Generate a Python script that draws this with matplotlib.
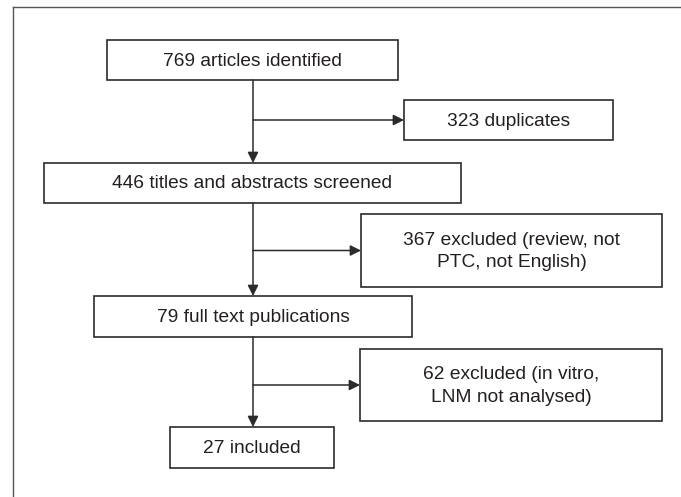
import matplotlib
matplotlib.use("Agg")
from matplotlib import pyplot as pl
from matplotlib.patches import Rectangle

# flow boxes: left, top, right, bottom (pixel layout of the figure)
labels = [
    "769 articles identified",
    "323 duplicates",
    "446 titles and abstracts screened",
    "367 excluded (review, not\nPTC, not English)",
    "79 full text publications",
    "62 excluded (in vitro,\nLNM not analysed)",
    "27 included",
]
box_x0 = [107, 404, 44, 361, 94, 360, 170]
box_x1 = [398, 613, 461, 662, 412, 662, 334]
box_y0 = [40, 100, 163, 214, 296, 349, 427]
box_y1 = [80, 140, 203, 287, 337, 421, 468]

spine_x = 253
main_steps = [(0, 2), (2, 4), (4, 6)]   # main flow, box -> box
side_steps = [(0, 1), (2, 3), (4, 5)]   # exclusions branching right

line_col = "#2b2b2b"
text_col = "#231f20"
font = ["Liberation Sans", "DejaVu Sans"]

fig = pl.figure(figsize=(6.81, 4.97), dpi=100)
ax = fig.add_axes([0, 0, 1, 1])
ax.set_xlim(0, 681)
ax.set_ylim(497, 0)
ax.axis("off")

# outer frame (top and left only visible)
ax.plot([13, 681], [7, 7], color="#555555", lw=1.0)
ax.plot([13, 13], [7, 497], color="#555555", lw=1.0)

for i, lab in enumerate(labels):
    x0, x1, y0, y1 = box_x0[i], box_x1[i], box_y0[i], box_y1[i]
    ax.add_patch(Rectangle((x0, y0), x1 - x0, y1 - y0, fill=False,
                           edgecolor=line_col, lw=1.2))
    ax.text((x0 + x1) / 2, (y0 + y1) / 2 + 1, lab, ha="center", va="center",
            fontsize=13.8, color=text_col, family=font, linespacing=1.45)

arrow = dict(arrowstyle="-|>", color=line_col, lw=1.1, mutation_scale=16,
             shrinkA=0, shrinkB=0)

for a, b in main_steps:
    ax.annotate("", xy=(spine_x, box_y0[b]), xytext=(spine_x, box_y1[a]),
                arrowprops=arrow)

for a, b in side_steps:
    yb = (box_y0[b] + box_y1[b]) / 2
    ax.annotate("", xy=(box_x0[b], yb), xytext=(spine_x, yb),
                arrowprops=arrow)

fig.savefig("out.png", dpi=100)
